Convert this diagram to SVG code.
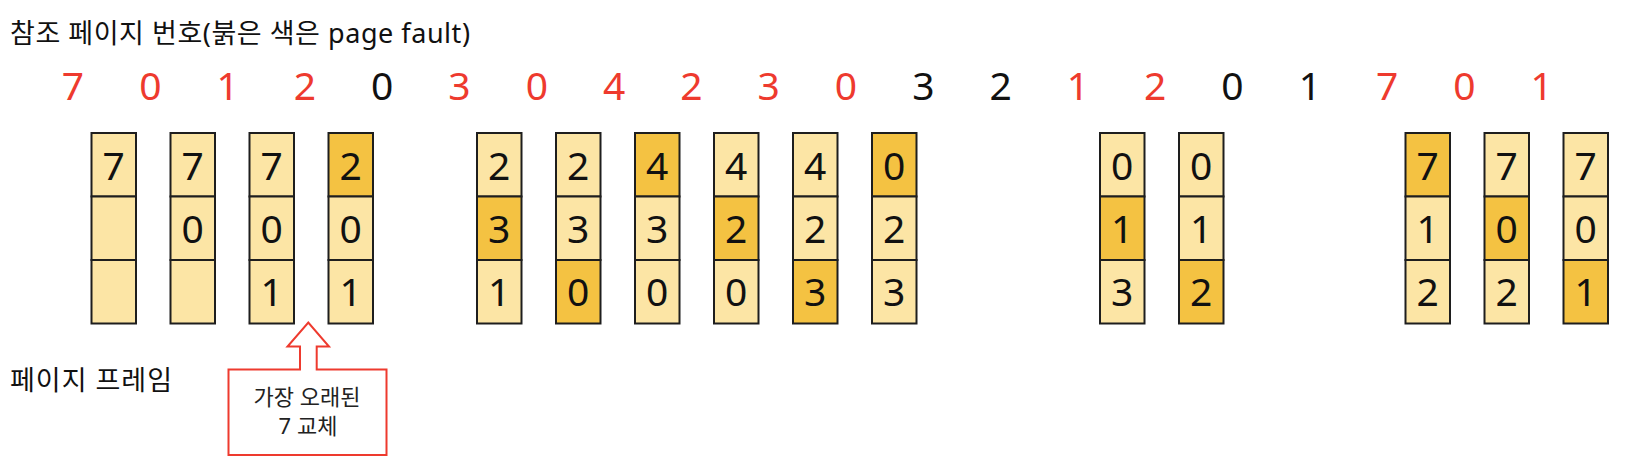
<svg xmlns="http://www.w3.org/2000/svg" width="1630" height="466" viewBox="0 0 1630 466">
<style>
text{font-family:"Noto Sans","Noto Sans CJK KR",sans-serif;}
.lbl{font-size:27px;fill:#111;}
.ref{font-size:39px;text-anchor:middle;}
.r{fill:#EE3A2E;}
.k{fill:#111;}
.c{stroke:#1e1e1e;stroke-width:2;}
.l{fill:#FCE5A5;}
.d{fill:#F4C242;}
.v{font-size:39px;text-anchor:middle;fill:#111;}
.co{font-size:22px;text-anchor:middle;fill:#222;}
</style>
<rect width="1630" height="466" fill="#fff"/>
<g id="title"><text class="lbl" x="10" y="43" textLength="460" lengthAdjust="spacing">참조 페이지 번호(붉은 색은 page fault)</text></g>
<g id="frame-label"><text class="lbl" x="10" y="390" textLength="162" lengthAdjust="spacing">페이지 프레임</text></g>
<g id="reference-string">
<text class="ref r" x="73" y="100">7</text>
<text class="ref r" x="150.3" y="100">0</text>
<text class="ref r" x="227.6" y="100">1</text>
<text class="ref r" x="304.9" y="100">2</text>
<text class="ref k" x="382.2" y="100">0</text>
<text class="ref r" x="459.5" y="100">3</text>
<text class="ref r" x="536.8" y="100">0</text>
<text class="ref r" x="614.1" y="100">4</text>
<text class="ref r" x="691.4" y="100">2</text>
<text class="ref r" x="768.7" y="100">3</text>
<text class="ref r" x="846" y="100">0</text>
<text class="ref k" x="923.3" y="100">3</text>
<text class="ref k" x="1000.6" y="100">2</text>
<text class="ref r" x="1077.9" y="100">1</text>
<text class="ref r" x="1155.2" y="100">2</text>
<text class="ref k" x="1232.5" y="100">0</text>
<text class="ref k" x="1309.8" y="100">1</text>
<text class="ref r" x="1387.1" y="100">7</text>
<text class="ref r" x="1464.4" y="100">0</text>
<text class="ref r" x="1541.7" y="100">1</text>
</g>
<g id="connectors"></g>
<g id="col1" transform="translate(91.5,0)">
<rect class="c l" x="0" y="133" width="44.5" height="63.5"/><rect class="c l" x="0" y="196.5" width="44.5" height="63.5"/><rect class="c l" x="0" y="260" width="44.5" height="63.5"/>
<text class="v" x="22.25" y="180">7</text>
</g>
<g id="col2" transform="translate(170.5,0)">
<rect class="c l" x="0" y="133" width="44.5" height="63.5"/><rect class="c l" x="0" y="196.5" width="44.5" height="63.5"/><rect class="c l" x="0" y="260" width="44.5" height="63.5"/>
<text class="v" x="22.25" y="180">7</text><text class="v" x="22.25" y="243">0</text>
</g>
<g id="col3" transform="translate(249.5,0)">
<rect class="c l" x="0" y="133" width="44.5" height="63.5"/><rect class="c l" x="0" y="196.5" width="44.5" height="63.5"/><rect class="c l" x="0" y="260" width="44.5" height="63.5"/>
<text class="v" x="22.25" y="180">7</text><text class="v" x="22.25" y="243">0</text><text class="v" x="22.25" y="306">1</text>
</g>
<g id="col4" transform="translate(328.5,0)">
<rect class="c d" x="0" y="133" width="44.5" height="63.5"/><rect class="c l" x="0" y="196.5" width="44.5" height="63.5"/><rect class="c l" x="0" y="260" width="44.5" height="63.5"/>
<text class="v" x="22.25" y="180">2</text><text class="v" x="22.25" y="243">0</text><text class="v" x="22.25" y="306">1</text>
</g>
<g id="col5" transform="translate(477,0)">
<rect class="c l" x="0" y="133" width="44.5" height="63.5"/><rect class="c d" x="0" y="196.5" width="44.5" height="63.5"/><rect class="c l" x="0" y="260" width="44.5" height="63.5"/>
<text class="v" x="22.25" y="180">2</text><text class="v" x="22.25" y="243">3</text><text class="v" x="22.25" y="306">1</text>
</g>
<g id="col6" transform="translate(556,0)">
<rect class="c l" x="0" y="133" width="44.5" height="63.5"/><rect class="c l" x="0" y="196.5" width="44.5" height="63.5"/><rect class="c d" x="0" y="260" width="44.5" height="63.5"/>
<text class="v" x="22.25" y="180">2</text><text class="v" x="22.25" y="243">3</text><text class="v" x="22.25" y="306">0</text>
</g>
<g id="col7" transform="translate(635,0)">
<rect class="c d" x="0" y="133" width="44.5" height="63.5"/><rect class="c l" x="0" y="196.5" width="44.5" height="63.5"/><rect class="c l" x="0" y="260" width="44.5" height="63.5"/>
<text class="v" x="22.25" y="180">4</text><text class="v" x="22.25" y="243">3</text><text class="v" x="22.25" y="306">0</text>
</g>
<g id="col8" transform="translate(714,0)">
<rect class="c l" x="0" y="133" width="44.5" height="63.5"/><rect class="c d" x="0" y="196.5" width="44.5" height="63.5"/><rect class="c l" x="0" y="260" width="44.5" height="63.5"/>
<text class="v" x="22.25" y="180">4</text><text class="v" x="22.25" y="243">2</text><text class="v" x="22.25" y="306">0</text>
</g>
<g id="col9" transform="translate(793,0)">
<rect class="c l" x="0" y="133" width="44.5" height="63.5"/><rect class="c l" x="0" y="196.5" width="44.5" height="63.5"/><rect class="c d" x="0" y="260" width="44.5" height="63.5"/>
<text class="v" x="22.25" y="180">4</text><text class="v" x="22.25" y="243">2</text><text class="v" x="22.25" y="306">3</text>
</g>
<g id="col10" transform="translate(872,0)">
<rect class="c d" x="0" y="133" width="44.5" height="63.5"/><rect class="c l" x="0" y="196.5" width="44.5" height="63.5"/><rect class="c l" x="0" y="260" width="44.5" height="63.5"/>
<text class="v" x="22.25" y="180">0</text><text class="v" x="22.25" y="243">2</text><text class="v" x="22.25" y="306">3</text>
</g>
<g id="col11" transform="translate(1100,0)">
<rect class="c l" x="0" y="133" width="44.5" height="63.5"/><rect class="c d" x="0" y="196.5" width="44.5" height="63.5"/><rect class="c l" x="0" y="260" width="44.5" height="63.5"/>
<text class="v" x="22.25" y="180">0</text><text class="v" x="22.25" y="243">1</text><text class="v" x="22.25" y="306">3</text>
</g>
<g id="col12" transform="translate(1179,0)">
<rect class="c l" x="0" y="133" width="44.5" height="63.5"/><rect class="c l" x="0" y="196.5" width="44.5" height="63.5"/><rect class="c d" x="0" y="260" width="44.5" height="63.5"/>
<text class="v" x="22.25" y="180">0</text><text class="v" x="22.25" y="243">1</text><text class="v" x="22.25" y="306">2</text>
</g>
<g id="col13" transform="translate(1405.5,0)">
<rect class="c d" x="0" y="133" width="44.5" height="63.5"/><rect class="c l" x="0" y="196.5" width="44.5" height="63.5"/><rect class="c l" x="0" y="260" width="44.5" height="63.5"/>
<text class="v" x="22.25" y="180">7</text><text class="v" x="22.25" y="243">1</text><text class="v" x="22.25" y="306">2</text>
</g>
<g id="col14" transform="translate(1484.5,0)">
<rect class="c l" x="0" y="133" width="44.5" height="63.5"/><rect class="c d" x="0" y="196.5" width="44.5" height="63.5"/><rect class="c l" x="0" y="260" width="44.5" height="63.5"/>
<text class="v" x="22.25" y="180">7</text><text class="v" x="22.25" y="243">0</text><text class="v" x="22.25" y="306">2</text>
</g>
<g id="col15" transform="translate(1563.5,0)">
<rect class="c l" x="0" y="133" width="44.5" height="63.5"/><rect class="c l" x="0" y="196.5" width="44.5" height="63.5"/><rect class="c d" x="0" y="260" width="44.5" height="63.5"/>
<text class="v" x="22.25" y="180">7</text><text class="v" x="22.25" y="243">0</text><text class="v" x="22.25" y="306">1</text>
</g>
<g id="callout">
<path d="M228.5 369.5 L300 369.5 L300 346.5 L287.5 346.5 L308.3 322.5 L329 346.5 L316.7 346.5 L316.7 369.5 L386.5 369.5 L386.5 455 L228.5 455 Z" fill="#fff" stroke="#EE3A2E" stroke-width="2"/>
<text class="co" x="307" y="405">가장 오래된</text>
<text class="co" x="308" y="434">7 교체</text>
</g>
</svg>
